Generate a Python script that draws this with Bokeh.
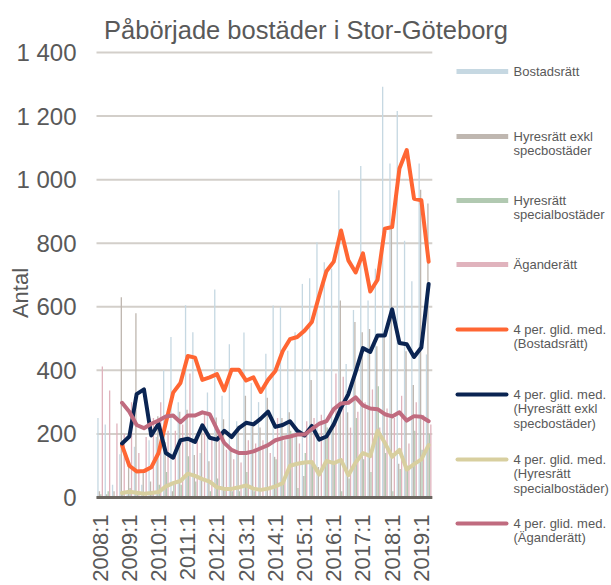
from bokeh.plotting import figure
from bokeh.models import FixedTicker, Range1d, ColumnDataSource
from bokeh.embed import file_html
from bokeh.resources import INLINE
from bokeh.core.properties import value
import math

# ---------------- data ----------------
quarters = [f"{y}:{q}" for y in range(2008, 2020) for q in range(1, 5)][:46]
tick_labels = [f"{y}:1" for y in range(2008, 2020)]
y_ticks = [0, 200, 400, 600, 800, 1000, 1200, 1400]

bostadsratt = [250, 230, 40, 136, 10, 160, 40, 180, 190, 400, 505, 300, 605, 520, 140, 330,
               654, 320, 482, 240, 519, 360, 300, 452, 604, 600, 462, 520, 672, 690, 803, 740,
               720, 967, 420, 590, 1043, 620, 720, 1292, 1051, 1216, 808, 680, 1051, 450]
hyresratt_exkl = [20, 10, 20, 630, 108, 580, 80, 50, 256, 174, 20, 270, 276, 134, 228, 114,
                  252, 246, 148, 226, 320, 226, 220, 314, 128, 250, 268, 194, 68, 370, 96, 234,
                  220, 620, 268, 552, 520, 530, 476, 514, 848, 106, 460, 354, 968, 925]
hyresratt_special = [10, 20, 5, 20, 30, 10, 0, 15, 40, 80, 40, 40, 130, 50, 0, 20,
                     60, 30, 20, 20, 80, 20, 0, 0, 120, 60, 210, 30, 140, 100, 0, 220,
                     110, 20, 60, 250, 120, 80, 350, 140, 20, 90, 100, 210, 150, 200]
aganderatt = [412, 337, 233, 200, 300, 140, 190, 250, 300, 210, 210, 230, 390, 200, 260, 190,
              200, 150, 120, 110, 180, 170, 180, 140, 250, 180, 200, 170, 240, 250, 260, 200,
              390, 380, 220, 270, 300, 340, 220, 280, 250, 320, 170, 300, 260, 230]

# 4-quarter moving averages, from 2008:4
ma_bostadsratt = [164, 100, 82, 83, 95, 140, 235, 330, 360, 445, 440, 370, 378, 388, 337, 402,
                  402, 368, 378, 332, 370, 398, 460, 498, 505, 525, 552, 635, 712, 742, 840, 746,
                  708, 768, 648, 685, 846, 851, 1035, 1093, 940, 935, 742]
ma_hyresratt_exkl = [170, 192, 325, 340, 195, 232, 140, 125, 180, 185, 175, 227, 188, 182, 210, 190,
                     218, 235, 230, 248, 270, 222, 228, 240, 210, 195, 225, 182, 192, 230, 282, 325,
                     395, 470, 458, 510, 510, 592, 486, 482, 442, 472, 672]
ma_hyresratt_special = [14, 18, 15, 12, 14, 17, 35, 45, 52, 75, 68, 58, 50, 32, 27, 27,
                        32, 38, 28, 24, 28, 35, 45, 100, 106, 110, 112, 72, 115, 108, 118, 70,
                        110, 140, 130, 210, 172, 128, 150, 88, 105, 120, 165]
ma_aganderatt = [298, 270, 228, 218, 232, 242, 255, 258, 237, 258, 258, 268, 262, 215, 172, 150,
                 140, 140, 145, 155, 165, 180, 187, 192, 198, 198, 215, 232, 240, 278, 296, 298,
                 315, 290, 280, 278, 262, 255, 268, 242, 256, 254, 240]

bar_series = [
    (["Bostadsrätt"], bostadsratt, "#c6d8e2"),
    (["Hyresrätt exkl", "specbostäder"], hyresratt_exkl, "#bfb7b0"),
    (["Hyresrätt", "specialbostäder"], hyresratt_special, "#b1c9b1"),
    (["Äganderätt"], aganderatt, "#e0b3bd"),
]
line_series = [
    (["4 per. glid. med.", "(Bostadsrätt)"], ma_bostadsratt, "#ff6633"),
    (["4 per. glid. med.", "(Hyresrätt exkl", "specbostäder)"], ma_hyresratt_exkl, "#0a2452"),
    (["4 per. glid. med.", "(Hyresrätt", "specialbostäder)"], ma_hyresratt_special, "#d8cf9f"),
    (["4 per. glid. med.", "(Äganderätt)"], ma_aganderatt, "#c06b7f"),
]
title_text = "Påbörjade bostäder i Stor-Göteborg"

TXT = "#595959"
FONT = "Liberation Sans"

# ---------------- layout geometry (page pixels) ----------------
W, H = 611, 585
FRAME_LEFT = 84          # left edge of the drawing frame
PLOT_LEFT = 96           # left edge of the category area
AXIS_Y = 497             # pixel row of value 0
TOP_Y = 52               # pixel row of value 1400
PX_PER_Q = 7.3           # pixels per quarter
K = (AXIS_Y - TOP_Y) / 1400.0


def dx(px):
    return (px - PLOT_LEFT) / PX_PER_Q - 0.5


def dy(py):
    return (AXIS_Y - py) / K


n = len(quarters)
xs = list(range(n))
p = figure(width=W, height=H, output_backend="svg", toolbar_location=None,
           x_range=Range1d(dx(FRAME_LEFT), dx(W)), y_range=Range1d(dy(H), dy(0)),
           x_axis_location=None,
           min_border_left=FRAME_LEFT, min_border_right=0, min_border_top=0, min_border_bottom=0)
p.outline_line_color = None
p.xgrid.visible = False
p.ygrid.visible = False

# gridlines over the category extent
p.segment(x0=[-0.5] * len(y_ticks), x1=[n - 0.5] * len(y_ticks), y0=y_ticks, y1=y_ticks,
          line_color="#d3cfca", line_width=2)

offsets = [-0.3, -0.1, 0.1, 0.3]
for (name, vals, col), off in zip(bar_series, offsets):
    src = ColumnDataSource(dict(x=[i + off for i in xs], top=vals))
    p.vbar(x="x", top="top", width=0.18, source=src, fill_color=col, line_color=None)

# category axis line at value 0
p.segment(x0=[-0.5], x1=[n - 0.5], y0=[0], y1=[0], line_color="#6b6660", line_width=3)

for name, vals, col in line_series:
    src = ColumnDataSource(dict(x=xs[3:3 + len(vals)], y=vals))
    p.line(x="x", y="y", source=src, line_color=col, line_width=4,
           line_join="round", line_cap="round")

# category tick labels (rotated)
tick_x = list(range(0, n, 4))
p.text(x=tick_x, y=[dy(514)] * len(tick_x), text=tick_labels, angle=math.pi / 2,
       text_font=value(FONT), text_font_size="22px", text_color=TXT,
       text_align="right", text_baseline="middle")

# value axis
p.yaxis.ticker = FixedTicker(ticks=y_ticks)
p.yaxis.bounds = (0, 1400)
p.yaxis.major_label_overrides = {v: (f"{v // 1000} {v % 1000:03d}" if v >= 1000 else str(v))
                                 for v in y_ticks}
p.yaxis.axis_line_color = None
p.yaxis.major_tick_line_color = None
p.yaxis.minor_tick_line_color = None
p.yaxis.major_label_text_font = FONT
p.yaxis.major_label_text_font_size = "24px"
p.yaxis.major_label_text_color = TXT
p.yaxis.major_label_standoff = 2
p.yaxis.axis_label = "Antal"
p.yaxis.axis_label_text_font = FONT
p.yaxis.axis_label_text_font_size = "22px"
p.yaxis.axis_label_text_font_style = "normal"
p.yaxis.axis_label_text_color = TXT
p.yaxis.axis_label_standoff = -20

# title
p.text(x=[dx(305.5)], y=[dy(29)], text=[title_text], text_font=value(FONT),
       text_font_size="25.5px", text_color=TXT, text_align="center", text_baseline="middle")

# legend
item_y = [71, 136, 200, 264, 329, 394, 459, 523]
line_h = 14.3
entries = [(nm, col, "bar") for nm, _, col in bar_series] + \
          [(nm, col, "line") for nm, _, col in line_series]
tx, ty, tt = [], [], []
for (nm, col, kind), yy in zip(entries, item_y):
    if kind == "bar":
        p.rect(x=[dx(481.85)], y=[dy(yy)], width=51.7, height=5, width_units="screen",
               height_units="screen", fill_color=col, line_color=None)
    else:
        p.line(x=[dx(457), dx(506)], y=[dy(yy), dy(yy)], line_color=col, line_width=4,
               line_cap="round")
    for k, part in enumerate(nm):
        tx.append(dx(513))
        ty.append(dy(yy + k * line_h))
        tt.append(part)
p.text(x=tx, y=ty, text=tt, text_font=value(FONT), text_font_size="13px",
       text_color=TXT, text_align="left", text_baseline="middle")

open("out.html", "w").write(file_html(p, INLINE))
